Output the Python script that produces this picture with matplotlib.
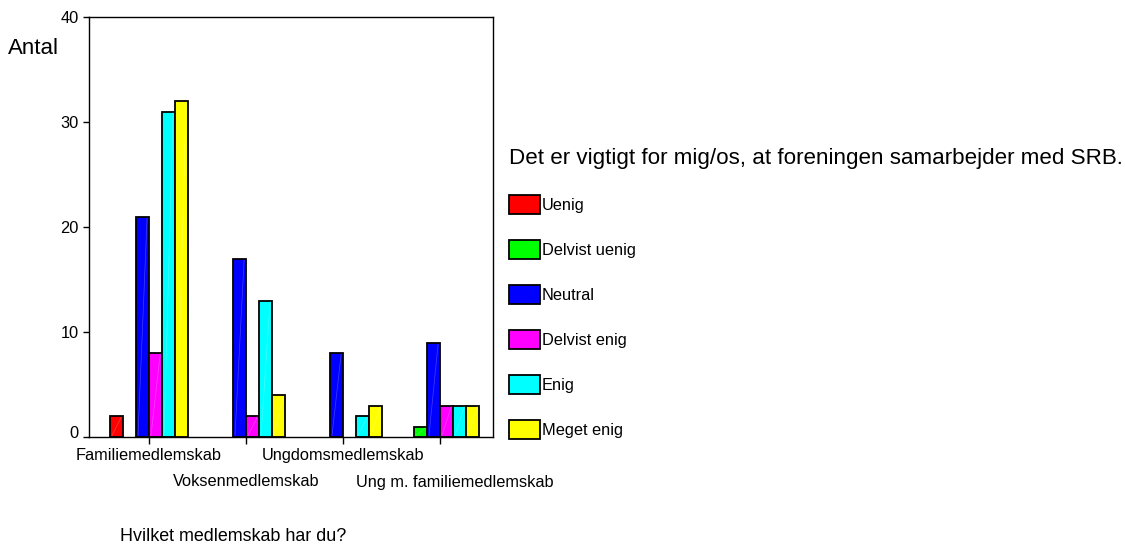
import numpy as np
import matplotlib.pyplot as plt
from matplotlib.colors import to_rgb
from matplotlib.patches import Patch
from matplotlib.transforms import ScaledTranslation

plt.rcParams['font.family'] = ['Liberation Sans', 'DejaVu Sans']

# membership types on the x axis
groups = ["Familiemedlemskab", "Voksenmedlemskab", "Ungdomsmedlemskab",
          "Ung m. familiemedlemskab"]

# answers, one list per answer (counts per membership type)
answers = ["Uenig", "Delvist uenig", "Neutral", "Delvist enig", "Enig", "Meget enig"]
uenig = [2, 0, 0, 0]
delvist_uenig = [0, 0, 0, 1]
neutral = [21, 17, 8, 9]
delvist_enig = [8, 2, 0, 3]
enig = [31, 13, 2, 3]
meget_enig = [32, 4, 3, 3]
counts = [uenig, delvist_uenig, neutral, delvist_enig, enig, meget_enig]

colors = ["#ff0000", "#00ff00", "#0000ff", "#ff00ff", "#00ffff", "#ffff00"]

fig = plt.figure(figsize=(11.25, 5.44), dpi=100)
ax = fig.add_axes([89/1125, 1-437/544, 404/1125, 420/544])

x = np.arange(len(groups))
w = 0.134
handles = []
for i, (name, vals, col) in enumerate(zip(answers, counts, colors)):
    bars = ax.bar(x + (i - 2.5) * w, vals, width=w, color=col,
                  edgecolor="black", linewidth=1.3, zorder=2)
    handles.append(Patch(facecolor=col, edgecolor="black", linewidth=1.3, label=name))
    # faint diagonal highlight like the original rendering
    light = tuple(0.75 * c + 0.25 for c in to_rgb(col))
    for b in bars:
        if b.get_height() == 0:
            # empty answers leave no mark
            b.set_visible(False)
            continue
        x0, y0 = b.get_x(), b.get_y()
        ax.plot([x0 + w * 0.15, x0 + w * 0.85], [y0 + 0.15, y0 + b.get_height() - 0.15],
                color=light, lw=0.5, zorder=3)

ax.set_xlim(-0.619, 3.546)
ax.set_ylim(0, 40)
ax.set_yticks([0, 10, 20, 30, 40])
ax.set_xticks(x)
ax.set_xticklabels(groups)
ax.tick_params(axis="both", labelsize=11.75, direction="out", length=4, width=1)
ax.tick_params(axis="x", length=5)
for sp in ax.spines.values():
    sp.set_linewidth(1)
    sp.set_color("black")

# alternate the category labels on two rows
for i, t in enumerate(ax.xaxis.get_major_ticks()):
    t.set_pad(3 if i % 2 == 0 else 22)
last = ax.get_xticklabels()[-1]
last.set_transform(last.get_transform() + ScaledTranslation(0.15, 0, fig.dpi_scale_trans))
zero = ax.get_yticklabels()[0]
zero.set_transform(zero.get_transform() + ScaledTranslation(0, 0.05, fig.dpi_scale_trans))

fig.text(8/1125, 1-48/544, "Antal", fontsize=16, va="center", ha="left")
fig.text(120/1125, 3/544, "Hvilket medlemskab har du?", fontsize=12.9,
         va="baseline", ha="left")

leg = ax.legend(handles=handles, loc="upper left",
                bbox_to_anchor=(509/1125, 1-148/544), bbox_transform=fig.transFigure,
                frameon=False, fontsize=11.75,
                title="Det er vigtigt for mig/os, at foreningen samarbejder med SRB.",
                title_fontsize=16.1, alignment="left", borderpad=0, borderaxespad=0,
                handlelength=1.9, handleheight=1.45, handletextpad=0.12,
                labelspacing=1.57)

fig.savefig("out.png", dpi=100)
